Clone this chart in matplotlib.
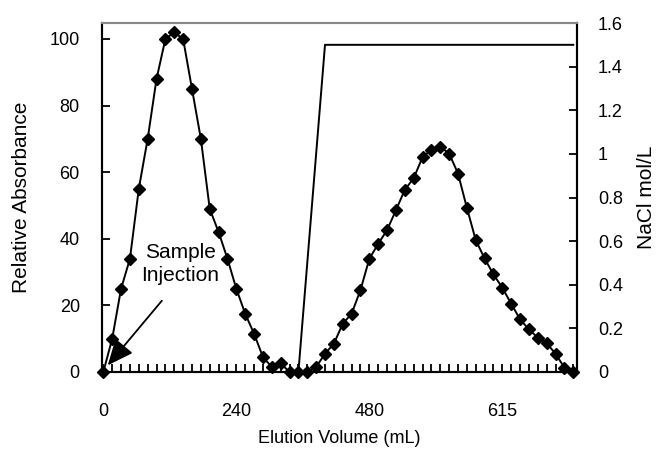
import numpy as np
import matplotlib
matplotlib.use('Agg')
import matplotlib.pyplot as plt
from matplotlib import font_manager

# the reference text is condensed; use the narrow face when it is installed
names = {f.name for f in font_manager.fontManager.ttflist}
if 'Liberation Sans Narrow' in names:
    plt.rcParams['font.family'] = ['Liberation Sans Narrow', 'DejaVu Sans']
    k = 1.2
else:
    plt.rcParams['font.family'] = ['Liberation Sans', 'DejaVu Sans']
    k = 1.0

# fraction index along the category axis, labels shown every 15 fractions
fraction = np.arange(54)
tick_pos = [0, 15, 30, 45]
tick_lab = ['0', '240', '480', '615']

absorbance = [0, 10, 25, 34, 55, 70, 88, 100, 102, 100,
              85, 70, 49, 42, 34, 25, 17.5, 11.5, 4.5, 1.5,
              2.6, 0, 0, 0, 1.5, 5.5, 8.5, 14.5, 17.5, 24.6,
              34, 38.5, 42.6, 48.6, 54.7, 58.2, 64.5, 66.8, 67.6, 65.6,
              59.6, 49.3, 39.6, 34.1, 29.3, 25.3, 20.5, 15.8, 12.8, 10.3,
              8.6, 5.5, 1.3, 0]

nacl = [0]*23 + [0.5, 1.0] + [1.5]*29

fig = plt.figure(figsize=(6.56, 4.5), dpi=100)
ax = fig.add_axes([102/656, 1-372/450, 475/656, 349/450])
ax2 = ax.twinx()

ax.plot(fraction, absorbance, color='black', lw=1.4, marker='D', ms=6.2,
        clip_on=False, zorder=5)
ax2.plot(fraction, nacl, color='black', lw=1.4)

ax.set_xlim(-0.15, 53.42)
ax.set_ylim(0, 104.8)
ax2.set_ylim(0, 1.6)

ax.set_xticks(fraction)
ax.set_xticklabels([tick_lab[tick_pos.index(i)] if i in tick_pos else '' for i in fraction])
ax.set_yticks(np.arange(0, 101, 20))
ax2.set_yticks(np.arange(0, 1.61, 0.2))
ax2.set_yticklabels(['%g' % round(v, 1) for v in np.arange(0, 1.61, 0.2)])

fs = 13 * k
ax.tick_params(axis='x', direction='in', length=6, width=1.3, pad=22, labelsize=fs)
ax.tick_params(axis='y', direction='in', length=6, width=1.3, pad=16, labelsize=fs)
ax2.tick_params(axis='y', direction='in', length=6, width=1.3, pad=15, labelsize=fs)

for a in (ax, ax2):
    for s in ('left', 'right', 'bottom'):
        a.spines[s].set_linewidth(1.5)
        a.spines[s].set_color('black')
    a.spines['top'].set_color('#888888')
    a.spines['top'].set_linewidth(1.5)

ax.set_xlabel('Elution Volume (mL)', fontsize=fs, va='center')
ax.set_ylabel('Relative Absorbance', fontsize=15 * k, va='center')
ax2.set_ylabel('NaCl mol/L', fontsize=15 * k, va='center')
ax.xaxis.set_label_coords(0.5, -0.19)
ax.yaxis.set_label_coords(-0.17, 0.5)
ax2.yaxis.set_label_coords(1.147, 0.5)

ax.text(8.7, 32.5, 'Sample\nInjection', ha='center', va='center', fontsize=15 * k,
        linespacing=1.3, zorder=6)
ax.annotate('', xy=(0.5, 2.0), xytext=(6.6, 21.4),
            arrowprops=dict(arrowstyle='-|>,head_length=0.8,head_width=0.35',
                            color='black', lw=1.3, mutation_scale=20, shrinkA=0, shrinkB=0),
            zorder=6)

fig.savefig('out.png', dpi=100)
